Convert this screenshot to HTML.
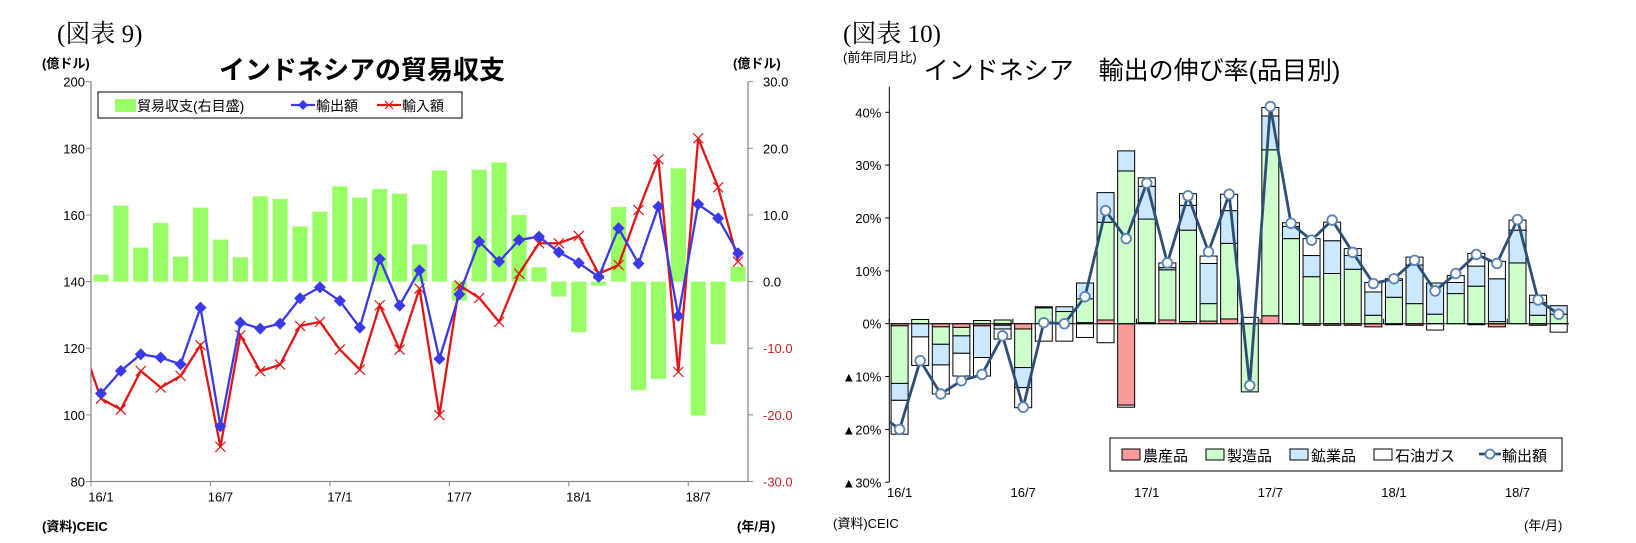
<!DOCTYPE html>
<html><head><meta charset="utf-8">
<style>
html,body{margin:0;padding:0;background:#fff;}
svg{display:block;font-family:"Liberation Sans","Noto Sans CJK JP",sans-serif;}
.serif{font-family:"Liberation Serif","Noto Serif CJK SC",serif;}
</style></head>
<body>
<svg id="c" width="1636" height="543" viewBox="0 0 1636 543" xmlns="http://www.w3.org/2000/svg">
  <text class="serif" x="57" y="42" font-size="25">(図表 9)</text>
  <text class="serif" x="843" y="42" font-size="25">(図表 10)</text>
  <text x="362" y="79" font-size="26" font-weight="bold" text-anchor="middle">インドネシアの貿易収支</text>
  <text x="1132" y="79" font-size="25" text-anchor="middle">インドネシア　輸出の伸び率(品目別)</text>
  <text x="42" y="68" font-size="13" font-weight="bold">(億ドル)</text>
  <text x="733" y="68" font-size="13" font-weight="bold">(億ドル)</text>
  <text x="843" y="62" font-size="13">(前年同月比)</text>
  <text x="42" y="531" font-size="13" font-weight="bold">(資料)CEIC</text>
  <text x="737" y="531" font-size="13" font-weight="bold">(年/月)</text>
  <text x="833" y="528" font-size="13">(資料)CEIC</text>
  <text x="1524" y="530" font-size="13">(年/月)</text>
  <g id="left"></g>
  <g id="right"></g>
</svg>
<script>
// ---------- Left chart data ----------
const monthLabels = ["16/1","16/7","17/1","17/7","18/1","18/7"];
const monthLabelIdx = [0,6,12,18,24,30];
const leftTicks = [80,100,120,140,160,180,200];
const rightTicks = [-30,-20,-10,0,10,20,30];
const balance = [1.05,11.4,5.1,8.8,3.75,11.1,6.3,3.65,12.8,12.4,8.3,10.5,14.3,12.6,13.9,13.2,5.6,16.7,-2.85,16.8,17.9,10.0,2.15,-2.25,-7.6,-0.6,11.2,-16.3,-14.6,17.0,-20.1,-9.4,2.25];
const exportsV = [106.4,113.2,118.2,117.2,115.2,132.2,96.6,127.7,125.9,127.4,135.0,138.3,134.2,126.2,146.8,132.8,143.4,116.8,136.2,152.0,146.0,152.5,153.5,148.8,145.6,141.4,156.0,145.4,162.5,129.7,163.2,159.0,148.5];
const importsV = [104.9,101.6,113.2,108.2,111.7,120.9,90.4,123.9,113.1,115.1,126.7,127.9,119.6,113.6,132.9,119.6,137.9,99.9,138.9,135.1,127.9,142.4,151.5,151.5,153.7,142.3,145.0,161.5,176.7,112.9,183.0,168.3,146.0];
const importsPrev = [122];
// ---------- Right chart data ----------
const pctTicks = [-30,-20,-10,0,10,20,30,40];
const agri  = [-0.4,0,-0.6,-0.7,-0.4,-0.3,-1.0,0,0,0.2,0.7,-15.4,0.2,0.7,0.4,0.5,0.9,0,1.5,-0.1,-0.3,-0.3,-0.3,-0.6,-0.2,-0.3,0,0,-0.2,-0.6,0,-0.3,0];
const manuf = [-10.9,0.8,-3.3,-1.6,0.6,0.7,-7.3,3.0,2.3,4.5,18.5,28.9,19.6,9.5,17.3,3.3,14.3,-12.9,31.4,16.1,8.9,9.5,10.3,1.6,5.0,3.8,1.8,5.7,7.1,0.4,11.5,1.6,1.8];
const mining= [-3.2,-2.5,-3.9,-3.3,-6.0,-0.7,-3.8,0.2,0.9,3.0,5.6,3.8,6.2,0.4,4.7,7.6,6.2,0,6.4,2.3,4.0,6.2,2.6,4.4,3.2,7.3,5.9,2.1,3.8,8.1,6.2,2.4,1.6];
const oilgas= [-6.4,-5.4,-5.5,-4.3,-3.5,-1.9,-3.8,-3.3,-3.3,-2.6,-3.6,-0.4,1.6,0.9,2.2,1.4,3.1,1.2,1.6,0.7,3.2,3.5,1.3,1.8,0.3,1.5,-1.2,1.3,2.4,3.3,1.9,1.4,-1.6];
const exportGrowth = [-20.0,-7.0,-13.3,-10.8,-9.6,-2.3,-15.8,0.2,0.0,5.1,21.4,16.1,26.6,11.5,24.2,13.6,24.5,-11.7,41.1,19.0,15.8,19.6,13.5,7.6,8.5,12.0,6.2,9.5,13.1,11.4,19.7,4.5,1.8];
const exportGrowthPrev = [-17];
const pctTickLabels = ["▲30%","▲20%","▲10%","0%","10%","20%","30%","40%"];

const NS="http://www.w3.org/2000/svg";
function mk(parent,tag,attrs,text){const e=document.createElementNS(NS,tag);for(const k in attrs)e.setAttribute(k,attrs[k]);if(text!==undefined)e.textContent=text;parent.appendChild(e);return e;}

// ---------- Left chart ----------
(function(){
  const g=document.getElementById('left');
  const X0=91,X1=748,Y0=81.7,Y1=481.5,n=balance.length,step=(X1-X0)/n;
  const xc=i=>X0+step*(i+0.5);
  const yL=v=>Y1-(v-80)/120*(Y1-Y0);
  const yR=v=>Y1-(v+30)/60*(Y1-Y0);
  const defs=mk(g,'defs',{});
  const cp=mk(defs,'clipPath',{id:'clipL'});
  mk(cp,'rect',{x:X0,y:Y0-10,width:X1-X0,height:Y1-Y0+20});
  // bars
  balance.forEach((v,i)=>{
    const r=mk(g,'rect',{x:xc(i)-7.6,y:Math.min(yR(v),yR(0)),width:15.2,height:Math.abs(yR(v)-yR(0)),fill:'#99ff66'});
    
    
  });
  // axes
  let a=mk(g,'line',{x1:X0,y1:Y0,x2:X0,y2:Y1,stroke:'#888','stroke-width':1.3});
  
  a=mk(g,'line',{x1:X1,y1:Y0,x2:X1,y2:Y1,stroke:'#888','stroke-width':1.3});
  
  a=mk(g,'line',{x1:X0,y1:Y1,x2:X1,y2:Y1,stroke:'#888','stroke-width':1.3});
  
  leftTicks.forEach(v=>{
    mk(g,'line',{x1:X0-5,y1:yL(v),x2:X0,y2:yL(v),stroke:'#888'});
    const t=mk(g,'text',{x:X0-6,y:yL(v)+5,'font-size':13,'text-anchor':'end'},String(v));
    
  });
  rightTicks.forEach(v=>{
    mk(g,'line',{x1:X1,y1:yR(v),x2:X1+5,y2:yR(v),stroke:'#888'});
    const t=mk(g,'text',{x:X1+15,y:yR(v)+5,'font-size':13,fill:v<0?'#d02020':'#000'},v.toFixed(1));
    
  });
  monthLabelIdx.forEach((idx,k)=>{
    mk(g,'line',{x1:X0+step*idx,y1:Y1,x2:X0+step*idx,y2:Y1+5,stroke:'#888'});
    const t=mk(g,'text',{x:xc(idx),y:Y1+20,'font-size':13,'text-anchor':'middle'},monthLabels[k]);
    
  });
  // import line
  let pts=[X0-step*0.5+','+yL(importsPrev[0])].concat(importsV.map((v,i)=>xc(i)+','+yL(v)));
  let l=mk(g,'polyline',{points:pts.join(' '),fill:'none',stroke:'#e51515','stroke-width':2.3,'clip-path':'url(#clipL)'});
  
  importsV.forEach((v,i)=>{
    const x=xc(i),y=yL(v);
    const p=mk(g,'path',{d:`M${x-5},${y-5}L${x+5},${y+5}M${x-5},${y+5}L${x+5},${y-5}`,stroke:'#e51515','stroke-width':1.2});
    
  });
  l=mk(g,'polyline',{points:exportsV.map((v,i)=>xc(i)+','+yL(v)).join(' '),fill:'none',stroke:'#3a3ae8','stroke-width':2.3});
  
  exportsV.forEach((v,i)=>{
    const x=xc(i),y=yL(v);
    const p=mk(g,'path',{d:`M${x},${y-6}L${x+6},${y}L${x},${y+6}L${x-6},${y}Z`,fill:'#3a3ae8'});
    
  });
  // legend
  const lg=mk(g,'g',{});
  
  mk(lg,'rect',{x:98,y:92,width:364,height:26,fill:'#fff',stroke:'#000','stroke-width':1});
  mk(lg,'rect',{x:115,y:99,width:21,height:13,fill:'#99ff66'});
  mk(lg,'text',{x:137,y:111,'font-size':14},'貿易収支(右目盛)');
  mk(lg,'line',{x1:291,y1:105,x2:315,y2:105,stroke:'#3a3ae8','stroke-width':2.3});
  mk(lg,'path',{d:'M303,100L308,105L303,110L298,105Z',fill:'#3a3ae8'});
  mk(lg,'text',{x:316,y:111,'font-size':14},'輸出額');
  mk(lg,'line',{x1:377,y1:105,x2:401,y2:105,stroke:'#e51515','stroke-width':2.3});
  mk(lg,'path',{d:'M385,101L393,109M385,109L393,101',stroke:'#e51515','stroke-width':1.2});
  mk(lg,'text',{x:402,y:111,'font-size':14},'輸入額');
})();

// ---------- Right chart ----------
(function(){
  const g=document.getElementById('right');
  const X0=889.3,X1=1569,YT=86.7,n=exportGrowth.length,step=(X1-X0)/n;
  const zero=323.7,per=5.285;
  const Y1=zero+30*per;
  const xc=i=>X0+step*(i+0.5);
  const y=v=>zero-v*per;
  const defs=mk(g,'defs',{});
  const cp=mk(defs,'clipPath',{id:'clipR'});
  mk(cp,'rect',{x:X0,y:YT,width:X1-X0,height:Y1-YT});
  const series=[[agri,'#ff9a9a','agri-bar'],[manuf,'#ccffcc','manufacturing-bar'],[mining,'#cce8ff','mining-bar'],[oilgas,'#ffffff','oil-gas-bar']];
  for(let i=0;i<n;i++){
    let pos=0,neg=0;
    series.forEach(s=>{
      const v=s[0][i]; if(!v) return;
      let a,b; if(v>0){a=pos;b=pos+v;pos=b;}else{a=neg;b=neg+v;neg=b;}
      const r=mk(g,'rect',{x:xc(i)-8.5,y:Math.min(y(a),y(b)),width:17,height:Math.abs(y(a)-y(b)),fill:s[1],stroke:'#000','stroke-width':1});
      
      
    });
  }
  let a=mk(g,'line',{x1:X0,y1:YT,x2:X0,y2:Y1,stroke:'#000','stroke-width':1});
  
  a=mk(g,'line',{x1:X0,y1:zero,x2:X1,y2:zero,stroke:'#000','stroke-width':1});
  
  a=mk(g,'line',{x1:X0,y1:Y1,x2:X1,y2:Y1,stroke:'#fff','stroke-width':0});
  pctTicks.forEach((v,k)=>{
    mk(g,'line',{x1:X0-4,y1:y(v),x2:X0,y2:y(v),stroke:'#000'});
    const t=mk(g,'text',{x:X0-8,y:y(v)+5,'font-size':13,'text-anchor':'end'},pctTickLabels[k]);
    
  });
  monthLabelIdx.forEach((idx,k)=>{
    mk(g,'line',{x1:X0+step*idx,y1:zero-5,x2:X0+step*idx,y2:zero,stroke:'#000'});
    const t=mk(g,'text',{x:xc(idx),y:497,'font-size':13,'text-anchor':'middle'},monthLabels[k]);
    
  });
  const pts=[(X0-step*0.5)+','+y(exportGrowthPrev[0])].concat(exportGrowth.map((v,i)=>xc(i)+','+y(v)));
  const l=mk(g,'polyline',{points:pts.join(' '),fill:'none',stroke:'#2c4f78','stroke-width':2.8,'clip-path':'url(#clipR)'});
  
  exportGrowth.forEach((v,i)=>{
    const c=mk(g,'circle',{cx:xc(i),cy:y(v),r:4.8,fill:'#fff',stroke:'#5a82b4','stroke-width':1.8});
    
  });
  const lg=mk(g,'g',{});
  
  mk(lg,'rect',{x:1110,y:438,width:452,height:33,fill:'#fff',stroke:'#000','stroke-width':1});
  const items=[['#ff9a9a','農産品'],['#ccffcc','製造品'],['#cce8ff','鉱業品'],['#ffffff','石油ガス']];
  const xs=[1122,1206,1290,1374];
  items.forEach((it,k)=>{
    mk(lg,'rect',{x:xs[k],y:449,width:18,height:11,fill:it[0],stroke:'#000'});
    mk(lg,'text',{x:xs[k]+21,y:461,'font-size':15},it[1]);
  });
  mk(lg,'line',{x1:1479,y1:454,x2:1501,y2:454,stroke:'#2c4f78','stroke-width':2.8});
  mk(lg,'circle',{cx:1490,cy:454,r:4.5,fill:'#fff',stroke:'#5a82b4','stroke-width':1.8});
  mk(lg,'text',{x:1502,y:461,'font-size':15},'輸出額');
})();
</script>
</body></html>
